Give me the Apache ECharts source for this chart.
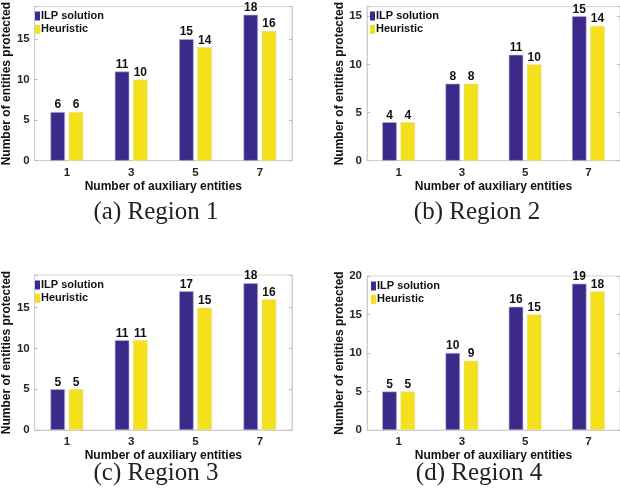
<!DOCTYPE html>
<html>
<head>
<meta charset="utf-8">
<script src="https://cdn.jsdelivr.net/npm/echarts@6/dist/echarts.min.js"></script>
<style>
  html, body { margin: 0; padding: 0; background: #fff; }
  #chart { width: 620px; height: 497px; }
</style>
</head>
<body>
<div id="chart"></div>
<script>
// Number of auxiliary entities (category ticks)
const categories = ['1', '3', '5', '7'];

// Entities protected, per region
const ilpRegion1 = [6, 11, 15, 18];
const heuRegion1 = [6, 10, 14, 16];
const ilpRegion2 = [4, 8, 11, 15];
const heuRegion2 = [4, 8, 10, 14];
const ilpRegion3 = [5, 11, 17, 18];
const heuRegion3 = [5, 11, 15, 16];
const ilpRegion4 = [5, 10, 16, 19];
const heuRegion4 = [5, 9, 15, 18];

// Upper y limits per panel
const yLimits = [19, 16, 19, 20];

const captions = ['(a) Region 1', '(b) Region 2', '(c) Region 3', '(d) Region 4'];
const seriesNames = ['ILP solution', 'Heuristic'];

const ilpColor = '#3b2a8a';
const heuColor = '#f4e11c';
const axisFont = 'Liberation Sans, Arial, sans-serif';

const panels = [
  { ilp: ilpRegion1, heu: heuRegion1, grid: { left: 32, top: 6, width: 260, height: 154.7 }, legend: { left: 35, top: 10 }, cap: { x: 156, y: 200 } },
  { ilp: ilpRegion2, heu: heuRegion2, grid: { left: 367, top: 6, width: 260, height: 154.7 }, legend: { left: 370, top: 10 }, cap: { x: 477, y: 200 } },
  { ilp: ilpRegion3, heu: heuRegion3, grid: { left: 32, top: 275, width: 260, height: 155 }, legend: { left: 35, top: 279 }, cap: { x: 156, y: 461 } },
  { ilp: ilpRegion4, heu: heuRegion4, grid: { left: 367, top: 276, width: 260, height: 154 }, legend: { left: 371, top: 280 }, cap: { x: 479, y: 461 } }
];

const grid = [], xAxis = [], yAxis = [], series = [], legend = [], title = [];

panels.forEach((p, i) => {
  grid.push(Object.assign({ show: true, borderColor: '#d4d4d4', borderWidth: 1, containLabel: false }, p.grid));

  xAxis.push({
    type: 'category',
    gridIndex: i,
    data: categories,
    name: 'Number of auxiliary entities',
    nameLocation: 'middle',
    nameGap: 20,
    nameTextStyle: { fontFamily: axisFont, fontWeight: 'bold', fontSize: 12, color: '#111' },
    axisLine: { lineStyle: { color: '#cfcfcf' } },
    axisTick: { alignWithLabel: true, inside: true, length: 3, lineStyle: { color: '#bdbdbd' } },
    axisLabel: { margin: 6, fontFamily: axisFont, fontWeight: 'bold', fontSize: 11.5, color: '#262626' },
    splitLine: { show: false }
  });

  const yBase = {
    type: 'value',
    gridIndex: i,
    min: 0,
    max: yLimits[i],
    interval: 5,
    splitLine: { show: false },
    axisLine: { show: true, lineStyle: { color: '#cfcfcf' } },
    axisTick: { show: true, inside: true, length: 3, lineStyle: { color: '#bdbdbd' } }
  };
  yAxis.push(Object.assign({}, yBase, {
    position: 'left',
    name: 'Number of entities protected',
    nameLocation: 'middle',
    nameGap: 14,
    nameTextStyle: { fontFamily: axisFont, fontWeight: 'bold', fontSize: 12, color: '#111' },
    axisLabel: {
      margin: 5,
      fontFamily: axisFont, fontWeight: 'bold', fontSize: 11.5, color: '#262626',
      formatter: v => (v % 5 === 0 ? String(v) : '')
    }
  }));
  yAxis.push(Object.assign({}, yBase, {
    position: 'right',
    axisLabel: { show: false }
  }));

  const labelCfg = {
    show: true, position: 'top', distance: 1,
    fontFamily: axisFont, fontWeight: 'bold', fontSize: 12, color: '#111'
  };
  series.push({
    type: 'bar', name: seriesNames[0], xAxisIndex: i, yAxisIndex: 2 * i,
    data: p.ilp, barWidth: 14.5, barGap: '26%',
    itemStyle: { color: ilpColor, borderColor: '#b9b4d0', borderWidth: 0.6 },
    label: labelCfg
  });
  series.push({
    type: 'bar', name: seriesNames[1], xAxisIndex: i, yAxisIndex: 2 * i,
    data: p.heu, barWidth: 14.5, barGap: '26%',
    itemStyle: { color: heuColor, borderColor: '#e6dca0', borderWidth: 0.6 },
    label: labelCfg
  });

  legend.push({
    left: p.legend.left, top: p.legend.top,
    orient: 'vertical', padding: 0, itemGap: 1.3,
    itemWidth: 5, itemHeight: 9, icon: 'rect',
    itemStyle: { borderWidth: 0 },
    data: seriesNames.map(n => ({ name: n })),
    textStyle: { fontFamily: axisFont, fontWeight: 'bold', fontSize: 11, lineHeight: 12, color: '#111', padding: [0, 0, 0, -4] },
    selectedMode: false
  });

  title.push({
    text: captions[i],
    left: p.cap.x, top: p.cap.y,
    textAlign: 'center',
    padding: 0,
    textStyle: { fontFamily: 'Liberation Serif, Times New Roman, serif', fontWeight: 'normal', fontSize: 25, color: '#222' }
  });
});

const chart = echarts.init(document.getElementById('chart'), null, { renderer: 'canvas' });
chart.setOption({
  backgroundColor: '#ffffff',
  animation: false,
  title, legend, grid, xAxis, yAxis, series
});
</script>
</body>
</html>
